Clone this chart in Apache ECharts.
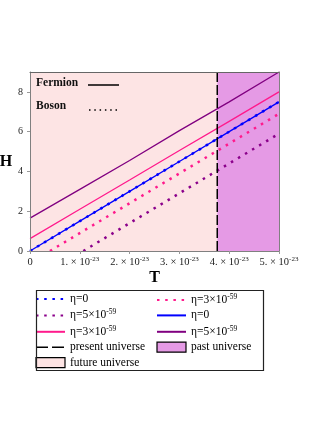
<!DOCTYPE html>
<html>
<head>
<meta charset="utf-8">
<script src="https://cdn.jsdelivr.net/npm/echarts@6/dist/echarts.min.js"></script>
<style>
  html, body { margin: 0; padding: 0; background: #fff; }
  #main { width: 324px; height: 440px; }
</style>
</head>
<body>
<div id="main"></div>
<script>
// T in units of 1e-23
var xTicks = [0, 1, 2, 3, 4, 5];
var yTicks = [0, 2, 4, 6, 8];
var presentT = 3.76;
var hMax = 9;

// fermions (solid)
var tFermion = [0, 1, 2, 3, 4, 5];
var f0 = [0, 1.5, 3.0, 4.5, 6.0, 7.5];
var f3 = [0.62, 2.1, 3.57, 5.05, 6.52, 8.0];
var f5 = [1.65, 3.1, 4.55, 6.05, 7.5, 9.0];

// bosons (dotted)
var tB0 = [0, 1, 2, 3, 4, 5];
var b0 = [0, 1.5, 3.0, 4.5, 6.0, 7.5];
var tB3 = [0.4, 1, 2, 3, 4, 5];
var b3 = [0, 0.9, 2.4, 3.9, 5.4, 6.9];
var tB5 = [1.07, 2, 3, 4, 5];
var b5 = [0, 1.4, 2.9, 4.4, 5.9];

var SERIF = '"Liberation Serif", "DejaVu Serif", serif';

var labels = {
    b0: '{n|η=0}',
    b3: '{n|η=3×10}{s|-59}',
    b5: '{n|η=5×10}{s|-59}',
    f0: '{n|η=0}',
    f3: '{n|η=3×10}{s|-59}',
    f5: '{n|η=5×10}{s|-59}',
    present: '{n|present universe}',
    past: '{n|past universe}',
    future: '{n|future universe}'
};

function pairs(xs, ys) {
    return xs.map(function (x, i) { return [x, ys[i]]; });
}

function lineSeries(name, xs, ys, color, dotted) {
    return {
        name: name,
        type: 'line',
        data: pairs(xs, ys),
        symbol: 'none',
        z: 3,
        silent: true,
        lineStyle: dotted
            ? { color: color, width: 2.5, type: [2.5, 5.7], cap: 'butt' }
            : { color: color, width: 1.3 },
        itemStyle: { color: color }
    };
}

var myChart = echarts.init(document.getElementById('main'));

var legendText = {
    fontFamily: SERIF,
    fontSize: 11.5,
    color: '#000',
    rich: {
        n: { fontFamily: SERIF, fontSize: 11.5, lineHeight: 14, color: '#000' },
        s: { fontFamily: SERIF, fontSize: 7.5, lineHeight: 8, verticalAlign: 'top', color: '#000' }
    }
};

// hide the marker the line legend icon puts in the middle
var noMarker = { color: 'transparent', borderColor: 'transparent', borderWidth: 0 };

function legendBase(left, data) {
    return {
        orient: 'vertical',
        left: left,
        top: 293,
        padding: 0,
        itemWidth: 29,
        itemHeight: 10,
        itemGap: 3.4,
        selectedMode: false,
        itemStyle: noMarker,
        textStyle: legendText,
        formatter: function (name) { return labels[name]; },
        data: data
    };
}

var option = {
    animation: false,
    backgroundColor: '#fff',
    grid: { left: 30, top: 72, width: 249, height: 179, outerBoundsMode: 'none', containLabel: false },
    xAxis: [{
        type: 'value',
        min: 0, max: 5, interval: 1,
        z: 10,
        name: 'T',
        nameLocation: 'middle',
        nameGap: 19,
        nameTextStyle: { fontFamily: SERIF, fontWeight: 'bold', fontSize: 16, color: '#000', verticalAlign: 'top' },
        axisLine: { show: true, lineStyle: { color: '#808080', width: 1 } },
        axisTick: { show: true, length: 3, lineStyle: { color: '#999' } },
        splitLine: { show: false },
        axisLabel: {
            margin: 5,
            fontFamily: SERIF,
            fontSize: 10.5,
            color: '#222',
            formatter: function (v) {
                return v === 0 ? '{a|0}' : '{a|' + v + '. × 10}{s|-23}';
            },
            rich: {
                a: { fontFamily: SERIF, fontSize: 10.5, lineHeight: 13, color: '#222' },
                s: { fontFamily: SERIF, fontSize: 7, lineHeight: 7, verticalAlign: 'top', color: '#222' }
            }
        }
    }, {
        type: 'value',
        position: 'top',
        min: 0, max: 5,
        z: 10,
        axisLine: { show: true, onZero: false, lineStyle: { color: '#666', width: 1 } },
        axisTick: { show: false },
        axisLabel: { show: false },
        splitLine: { show: false }
    }],
    yAxis: [{
        type: 'value',
        min: 0, max: hMax, interval: 2,
        z: 10,
        name: 'H',
        nameLocation: 'middle',
        nameRotate: 0,
        nameGap: 17,
        nameTextStyle: { fontFamily: SERIF, fontWeight: 'bold', fontSize: 16, color: '#000' },
        axisLine: { show: true, lineStyle: { color: '#808080', width: 1 } },
        axisTick: { show: true, length: 3, lineStyle: { color: '#999' }, customValues: yTicks },
        splitLine: { show: false },
        axisLabel: {
            margin: 7,
            fontFamily: SERIF,
            fontSize: 10,
            color: '#222',
            customValues: yTicks
        }
    }, {
        type: 'value',
        position: 'right',
        min: 0, max: hMax,
        z: 10,
        axisLine: { show: true, onZero: false, lineStyle: { color: '#808080', width: 1 } },
        axisTick: { show: false },
        axisLabel: { show: false },
        splitLine: { show: false }
    }],
    legend: [
        legendBase(35, [
            { name: 'b0' },
            { name: 'b5' },
            { name: 'f3' },
            { name: 'present', lineStyle: { type: [12, 4], width: 1.4, color: '#000' } },
            { name: 'future', icon: 'rect', itemStyle: { color: '#fde4e4', borderColor: '#000', borderWidth: 1.2 } }
        ]),
        legendBase(156, [
            { name: 'b3' },
            { name: 'f0' },
            { name: 'f5' },
            { name: 'past', icon: 'rect', itemStyle: { color: '#e59ae5', borderColor: '#000', borderWidth: 1.2 } }
        ])
    ],
    graphic: [
        { type: 'rect', left: 34, top: 288, z: 20,
          shape: { width: 227, height: 80 },
          style: { fill: null, stroke: '#222', lineWidth: 1.2 } },
        { type: 'text', x: 36, y: 83, z: 20,
          style: { text: 'Fermion', font: 'bold 11.5px ' + SERIF, fill: '#111', verticalAlign: 'middle' } },
        { type: 'line', z: 20, shape: { x1: 88, y1: 85, x2: 119, y2: 85 },
          style: { stroke: '#000', lineWidth: 1.5 } },
        { type: 'text', x: 36, y: 106, z: 20,
          style: { text: 'Boson', font: 'bold 11.5px ' + SERIF, fill: '#111', verticalAlign: 'middle' } },
        { type: 'line', z: 20, shape: { x1: 89, y1: 110, x2: 119, y2: 110 },
          style: { stroke: '#000', lineWidth: 1.5, lineDash: [1.5, 3.8] } }
    ],
    series: [
        {
            name: 'future', type: 'line', data: [], z: 1, silent: true,
            itemStyle: { color: '#fde4e4' },
            markArea: {
                silent: true,
                itemStyle: { color: '#fde4e4' },
                data: [[{ xAxis: 0, yAxis: 0 }, { xAxis: presentT, yAxis: hMax }]]
            }
        },
        {
            name: 'past', type: 'line', data: [], z: 1, silent: true,
            itemStyle: { color: '#e59ae5' },
            markArea: {
                silent: true,
                itemStyle: { color: '#e59ae5' },
                data: [[{ xAxis: presentT, yAxis: 0 }, { xAxis: 5, yAxis: hMax }]]
            }
        },
        {
            name: 'present', type: 'line', symbol: 'none', z: 4, silent: true,
            data: [[presentT, 0], [presentT, hMax]],
            lineStyle: { color: '#000', width: 1.5, type: [10, 3] },
            itemStyle: { color: '#000' }
        },
        lineSeries('b0', tB0, b0, '#0000ff', true),
        lineSeries('b3', tB3, b3, '#ff1a8c', true),
        lineSeries('b5', tB5, b5, '#8b008b', true),
        lineSeries('f0', tFermion, f0, '#0000ff', false),
        lineSeries('f3', tFermion, f3, '#ff1a8c', false),
        lineSeries('f5', tFermion, f5, '#800080', false)
    ]
};

myChart.setOption(option);
</script>
</body>
</html>
